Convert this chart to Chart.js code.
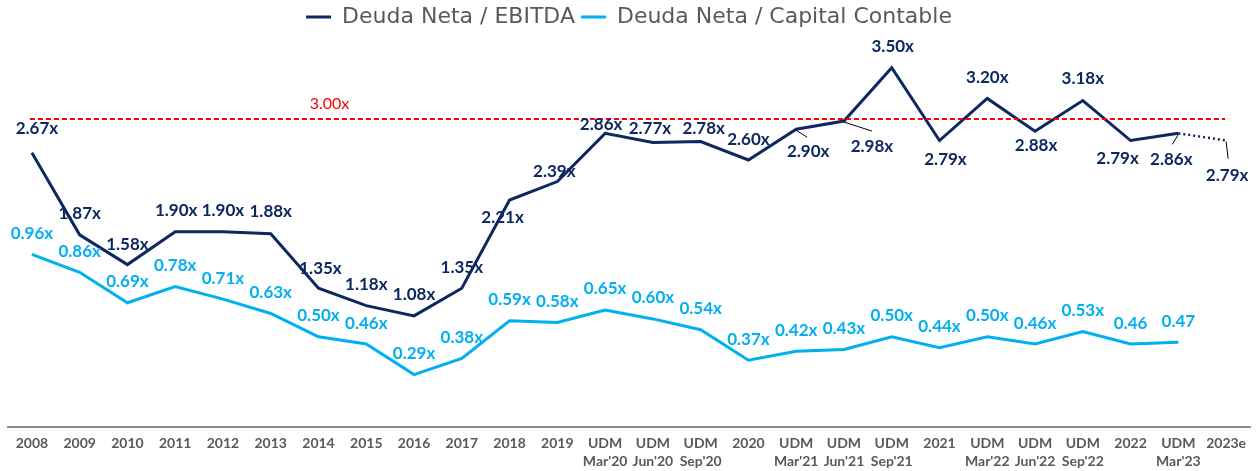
<!DOCTYPE html>
<html lang="es">
<head>
<meta charset="utf-8">
<title>Deuda Neta</title>
<script src="https://cdn.jsdelivr.net/npm/chart.js@4.4.1/dist/chart.umd.min.js"></script>
<style>
  html, body { margin: 0; padding: 0; background: #fff; }
  #wrap { width: 1257px; height: 471px; position: relative; }
</style>
</head>
<body>
<div id="wrap"><canvas id="deudaChart"></canvas></div>
<script>
// periods on the x axis
const categories = [
    '2008', '2009', '2010', '2011', '2012', '2013', '2014', '2015', '2016', '2017', '2018', '2019',
    ['UDM', "Mar'20"], ['UDM', "Jun'20"], ['UDM', "Sep'20"], '2020',
    ['UDM', "Mar'21"], ['UDM', "Jun'21"], ['UDM', "Sep'21"], '2021',
    ['UDM', "Mar'22"], ['UDM', "Jun'22"], ['UDM', "Sep'22"], '2022',
    ['UDM', "Mar'23"], '2023e'
];

// Deuda Neta / EBITDA
const ebitdaRatio = [2.67, 1.87, 1.58, 1.90, 1.90, 1.88, 1.35, 1.18, 1.08, 1.35, 2.21, 2.39,
    2.86, 2.77, 2.78, 2.60, 2.90, 2.98, 3.50, 2.79, 3.20, 2.88, 3.18, 2.79, 2.86, 2.79];

// Deuda Neta / Capital Contable
const capitalRatio = [0.96, 0.86, 0.69, 0.78, 0.71, 0.63, 0.50, 0.46, 0.29, 0.38, 0.59, 0.58,
    0.65, 0.60, 0.54, 0.37, 0.42, 0.43, 0.50, 0.44, 0.50, 0.46, 0.53, 0.46, 0.47, null];

// covenant line
const threshold = 3.00;

const NAVY = '#0d2860';
const CYAN = '#00b0f0';

// where each EBITDA label sits relative to its point
const ebitdaOffsets = [
    [5, -24], [0, -21], [0, -20], [1, -21], [0, -21], [0, -22], [2, -20], [0, -21], [0, -21], [0, -21],
    [-7, 18], [-3, -10], [-4, -9], [-3, -14], [3, -13], [0, -20],
    [12, 22], [28, 25], [1, -21], [6, 19],
    [0, -21], [1, 14], [0, -22], [-13, 18], [-7, 26], [1, 35]
];
const ebitdaLeaders = { 16: [11, 8], 17: [28, 10], 24: [-6, 11], 25: [2, 18] };

const valueLabels = {
    id: 'valueLabels',
    afterDatasetsDraw(chart) {
        const ctx = chart.ctx;
        const xs = chart.scales.x;
        const ys = chart.scales.y;

        // dashed 3.00x line
        const ty = ys.getPixelForValue(threshold);
        ctx.save();
        ctx.strokeStyle = '#ff0000';
        ctx.lineWidth = 2;
        ctx.setLineDash([5, 3]);
        ctx.beginPath();
        ctx.moveTo(xs.getPixelForValue(0) - 2, ty);
        ctx.lineTo(xs.getPixelForValue(categories.length - 1) - 1, ty);
        ctx.stroke();
        ctx.setLineDash([]);
        ctx.fillStyle = '#ff0000';
        ctx.font = '16px Lato';
        ctx.textAlign = 'center';
        ctx.textBaseline = 'middle';
        ctx.fillText(threshold.toFixed(2) + 'x', xs.getPixelForValue(6) + 11, ty - 15);

        chart.data.datasets.forEach((ds, i) => {
            const meta = chart.getDatasetMeta(i);
            ctx.font = 'bold 17px Lato';
            ctx.fillStyle = ds.borderColor;
            meta.data.forEach((pt, j) => {
                const v = ds.data[j];
                if (v == null) return;
                const off = ds.labelOffsets ? ds.labelOffsets[j] : [0, -21];
                const leader = ds.leaders && ds.leaders[j];
                if (leader) {
                    ctx.strokeStyle = '#000';
                    ctx.lineWidth = 1;
                    ctx.beginPath();
                    ctx.moveTo(pt.x, pt.y + 1);
                    ctx.lineTo(pt.x + leader[0], pt.y + leader[1]);
                    ctx.stroke();
                }
                const txt = v.toFixed(2) + (ds.noSuffixFrom != null && j >= ds.noSuffixFrom ? '' : 'x');
                ctx.fillText(txt, pt.x + off[0], pt.y + off[1]);
            });
        });
        ctx.restore();
    }
};

const lastIdx = categories.length - 1;

new Chart(document.getElementById('deudaChart'), {
    type: 'line',
    data: {
        labels: categories,
        datasets: [
            {
                label: 'Deuda Neta / EBITDA',
                data: ebitdaRatio,
                yAxisID: 'y',
                borderColor: NAVY,
                backgroundColor: NAVY,
                borderWidth: 3,
                pointRadius: 0,
                tension: 0,
                labelOffsets: ebitdaOffsets,
                leaders: ebitdaLeaders,
                segment: {
                    borderDash: c => c.p1DataIndex === lastIdx ? [2, 3] : undefined,
                    borderWidth: c => c.p1DataIndex === lastIdx ? 2.5 : undefined
                }
            },
            {
                label: 'Deuda Neta / Capital Contable',
                data: capitalRatio,
                yAxisID: 'y1',
                borderColor: CYAN,
                backgroundColor: CYAN,
                borderWidth: 3,
                pointRadius: 0,
                tension: 0,
                noSuffixFrom: 23
            }
        ]
    },
    options: {
        responsive: true,
        maintainAspectRatio: false,
        animation: false,
        layout: { padding: { left: 8, right: 7, top: 0, bottom: -8 } },
        plugins: {
            legend: {
                position: 'top',
                labels: {
                    color: '#595959',
                    font: { family: 'DejaVu Sans', size: 22 },
                    boxWidth: 25,
                    boxHeight: 3,
                    padding: 6,
                    generateLabels(chart) {
                        return Chart.defaults.plugins.legend.labels.generateLabels(chart)
                            .map(l => Object.assign(l, { lineWidth: 0 }));
                    }
                }
            },
            tooltip: { enabled: false }
        },
        scales: {
            x: {
                offset: true,
                grid: { display: false, drawTicks: false },
                border: { display: true, color: '#8c8c8c', width: 2 },
                ticks: {
                    color: '#595959',
                    font: { family: 'Lato', size: 14, weight: 'bold', lineHeight: 1.3 },
                    padding: 8,
                    maxRotation: 0,
                    autoSkip: false
                }
            },
            y: { display: false, min: 0, max: 3.79 },
            y1: { display: false, min: 0, max: 2.165 }
        }
    },
    plugins: [valueLabels]
});
</script>
</body>
</html>
